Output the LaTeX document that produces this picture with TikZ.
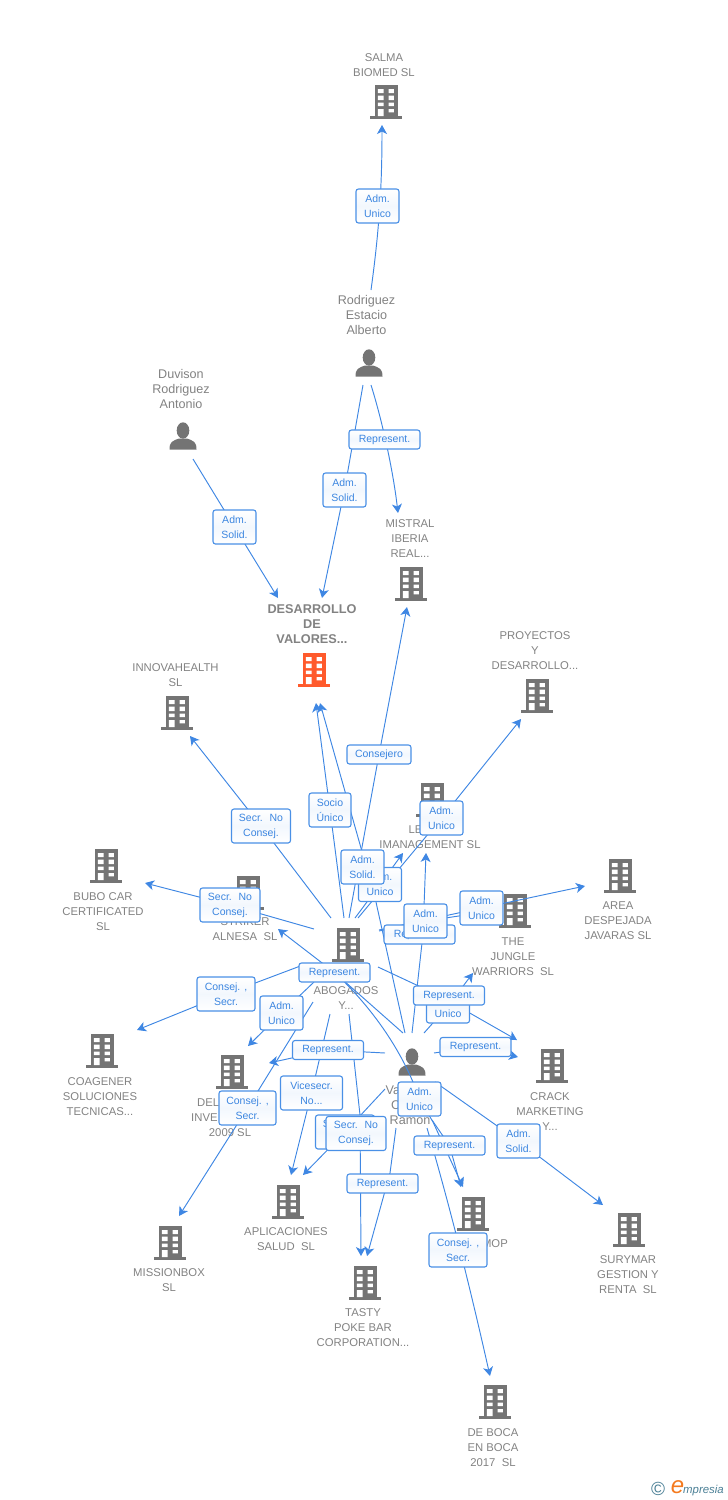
\documentclass[tikz,border=0pt]{standalone}
\usepackage{fontspec}
\setmainfont{Liberation Sans}
\usetikzlibrary{arrows.meta,shadings}
\pgfdeclarelayer{lines}\pgfdeclarelayer{boxes}
\pgfsetlayers{main,lines,boxes}
\definecolor{lnk}{HTML}{3F87E3}
\definecolor{bord}{HTML}{4A90E6}
\definecolor{txtb}{HTML}{3C86E0}
\definecolor{graytx}{HTML}{828282}
\definecolor{ico}{HTML}{747474}
\definecolor{orng}{HTML}{FF5A2C}
\definecolor{logob}{HTML}{4A7F95}
\definecolor{logoo}{HTML}{F47A1F}
\tikzset{
 conn/.style={draw=lnk,line width=0.95pt,line join=round},
 arr/.style={conn,-{Stealth[length=9pt,width=10pt,inset=2.5pt]}},
 rel/.style={draw=bord,line width=1.1pt,rounded corners=2.5pt,top color=white,bottom color=white,middle color=white!93!bord,
   text=txtb,align=center,inner sep=0pt,font=\fontsize{10.5}{15}\selectfont},
 nlabel/.style={text=graytx,align=center,inner sep=0pt,font=\fontsize{11.3}{15}\selectfont},
 plabel/.style={text=graytx,align=center,inner sep=0pt,font=\fontsize{12.6}{15}\selectfont},
 mlabel/.style={text=graytx,align=center,inner sep=0pt,font=\fontsize{12.7}{15}\selectfont\bfseries},
}
% building icon: name, x, y, colour
\newcommand\bldg[4][ico]{%
 \coordinate (#2) at (#3,#4);
 \begin{scope}[shift={(#3,#4)}]
 \fill[#1] (-11.5,-17) rectangle (11.5,14);
 \fill[#1] (-16,14) rectangle (16,16.5);
 \fill[white] (-8.2,-13) rectangle (-2.4,-8.8) (2.5,-13) rectangle (7.8,-8.8)
  (-8.2,-6.3) rectangle (-2.4,-2) (2.5,-6.3) rectangle (7.8,-2)
  (-8.2,0.7) rectangle (-2.4,4) (2.5,0.7) rectangle (7.8,4)
  (-8.2,7) rectangle (-2.4,14) (2.5,7) rectangle (7.8,10.3);
 \end{scope}}
% person icon: name, x, y
\newcommand\persona[3]{%
 \coordinate (#1) at (#2,#3);
 \begin{scope}[shift={(#2,#3)}]
 \fill[ico] (0,-5.5) ellipse (6.3 and 8.2);
 \fill[ico] (-13.5,13.5) .. controls (-13.5,6) and (-11,5) .. (-4,2.5) -- (4,2.5) .. controls (11,5) and (13.5,6) .. (13.5,13.5) -- cycle;
 \end{scope}}
\begin{document}
\begin{tikzpicture}[x=1pt,y=-1pt]
\useasboundingbox (0,0) rectangle (728,1500);
% icons
\bldg{salma}{386}{102}
\persona{rod}{369}{363}
\persona{duv}{183}{436}
\bldg[orng]{desa}{314}{670}
\bldg{mist}{411}{584}
\bldg{proy}{537}{696}
\bldg{inno}{177}{713}
\bldg{leim}{432}{800}
\bldg{bubo}{106}{866}
\bldg{stri}{248}{893}
\bldg{area}{620}{876}
\bldg{jung}{515}{911}
\bldg{abog}{348}{945}
\bldg{coag}{102}{1051}
\bldg{delv}{232}{1072}
\bldg{crac}{552}{1066}
\persona{vale}{412}{1062}
\bldg{apli}{288}{1202}
\bldg{miss}{170}{1243}
\bldg{cmop}{473}{1214}
\bldg{sury}{629}{1230}
\bldg{tast}{365}{1283}
\bldg{debo}{495}{1402}
% labels
\begin{scope}[shift={(0,1)}]
\node[nlabel] (tsalma) at (384,64.5) {SALMA\\BIOMED SL};
\node[plabel] (trod) at (366.5,314) {Rodriguez\\Estacio\\Alberto};
\node[plabel] (tduv) at (181,388) {Duvison\\Rodriguez\\Antonio};
\node[mlabel] (tdesa) at (312,623) {DESARROLLO\\DE\\VALORES...};
\node[nlabel] (tmist) at (410,538) {MISTRAL\\IBERIA\\REAL...};
\node[nlabel] (tproy) at (535,650) {PROYECTOS\\Y\\DESARROLLO...};
\node[nlabel] (tinno) at (175.5,674.5) {INNOVAHEALTH\\SL};
\node[nlabel,anchor=west] (tle) at (408.5,829) {LE};
\node[nlabel] (tleim) at (430,844) {IMANAGEMENT SL};
\node[nlabel] (tbubo) at (103,911) {BUBO CAR\\CERTIFICATED\\SL};
\node[nlabel] (tstri) at (245,928.5) {STRIKER\\ALNESA~ SL};
\node[nlabel] (tarea) at (618,920) {AREA\\DESPEJADA\\JAVARAS SL};
\node[nlabel] (tjung) at (513,956) {THE\\JUNGLE\\WARRIORS~ SL};
\node[nlabel] (tabog) at (346,997.5) {ABOGADOS\\Y...};
\node[nlabel] (tcoag) at (100,1096) {COAGENER\\SOLUCIONES\\TECNICAS...};
\node[nlabel,anchor=west] (tdel1) at (197,1102) {DEL};
\node[nlabel,anchor=west] (tdel2) at (191,1117) {INVE};
\node[nlabel] (tdel3) at (230,1132) {2009 SL};
\node[nlabel] (tcrac) at (550,1111) {CRACK\\MARKETING\\Y...};
\node[plabel,anchor=west] (tval1) at (385.5,1089) {Va};
\node[plabel,anchor=west] (tval2) at (391,1104) {C};
\node[plabel] (tval3) at (410,1119) {Ramon};
\node[nlabel] (tapli) at (286,1238.5) {APLICACIONES\\SALUD~ SL};
\node[nlabel] (tmiss) at (169,1279.5) {MISSIONBOX\\SL};
\node[nlabel,anchor=east] (tcmop) at (508,1243) {MOP};
\node[nlabel] (tsury) at (628,1274) {SURYMAR\\GESTION Y\\RENTA~ SL};
\node[nlabel] (ttast) at (363,1327) {TASTY\\POKE BAR\\CORPORATION...};
\node[nlabel] (tdebo) at (493,1447) {DE BOCA\\EN BOCA\\2017~ SL};
\end{scope}
% logo
\node[inner sep=0pt,text=logob,font=\fontsize{19}{19}\selectfont] (lc) at (658,1489) {©};
\node[inner sep=0pt,text=logoo,font=\fontsize{24}{24}\selectfont\itshape] (le) at (677.5,1487) {e};
\node[inner sep=0pt,anchor=west,text=logob,font=\fontsize{11.4}{13}\selectfont\itshape] (lm) at (683,1491) {mpresia};
% relation boxes
\begin{pgfonlayer}{boxes}
\newcommand\rbox[6]{\node[rel,minimum width=#4pt,minimum height=#5pt] (#1) at (#2,#3) {#6};}
\rbox{b1}{377.5}{206}{43}{34}{Adm.\\Unico}
\rbox{b2}{384.5}{439.5}{71}{19}{Represent.}
\rbox{b3}{344.5}{490}{43}{34}{Adm.\\Solid.}
\rbox{b4}{234.5}{527}{43}{34}{Adm.\\Solid.}
\rbox{b5}{379}{754.5}{64}{19}{Consejero}
\rbox{b6}{330}{810}{42}{34}{Socio\\Único}
\rbox{b8}{261}{826}{59}{34}{Secr.~ No\\Consej.}
\rbox{b9}{441.5}{818}{43}{34}{Adm.\\Unico}
\rbox{b10}{380}{884.5}{43}{34}{Adm.\\Unico}
\rbox{b7}{362.5}{867}{43}{34}{Adm.\\Solid.}
\rbox{b11}{230}{905}{60}{34}{Secr.~ No\\Consej.}
\rbox{b13}{419.5}{934.5}{71}{19}{Represent.}
\rbox{b12}{425.5}{921}{43}{34}{Adm.\\Unico}
\rbox{b14}{481.5}{908}{43}{34}{Adm.\\Unico}
\rbox{b15}{448}{1006}{43}{34}{Adm.\\Unico}
\rbox{b16}{449}{995.5}{71}{19}{Represent.}
\rbox{b17}{475.5}{1047}{71}{19}{Represent.}
\rbox{b18}{334.5}{972.5}{71}{19}{Represent.}
\rbox{b19}{226}{994}{58}{34}{Consej. ,\\Secr.}
\rbox{b20}{281.5}{1013}{43}{34}{Adm.\\Unico}
\rbox{b21}{328}{1050}{71}{19}{Represent.}
\rbox{b22}{311.5}{1093}{62}{34}{Vicesecr.\\No...}
\rbox{b23}{247.5}{1108}{57}{34}{Consej. ,\\Secr.}
\rbox{b24}{345}{1132}{59}{34}{Secr.~ No\\Consej.}
\rbox{b25}{356}{1133.5}{60}{34}{Secr.~ No\\Consej.}
\rbox{b26}{419.5}{1099}{43}{34}{Adm.\\Unico}
\rbox{b27}{449.5}{1145.5}{71}{19}{Represent.}
\rbox{b28}{518.5}{1141}{43}{34}{Adm.\\Solid.}
\rbox{b29}{382.5}{1183.5}{71}{19}{Represent.}
\rbox{b30}{458}{1250}{58}{34}{Consej. ,\\Secr.}
\end{pgfonlayer}
% free connector ends
\foreach \n/\x/\y in {
 s1/371/290, c1a/380/225, c1b/382/180, e1/382/125, s2/371/385, c2a/382/420, c2b/393/470, e2/398/513, s3/363/385, e3/322/598,
 s4/193/459, e4/278/598, s5/349/918, e5/407/607, s6/344/918, e6/316/703,
 s7/405/1033, v7/372/884, u7/361/848, e7/320/703, s8/331/918, e8/190/736,
 s9/358/918, e9/521/719, s10/355/918, e10/403/853, s11/314/929, e11/145/883,
 s12/412/1033, e12/426/853, s13/379/931, e13/472/914, s14/379/930, e14/585/886,
 s15/424/1033, e15/473/973, s16/378/967, v16/440/996, e16/517/1040,
 s17/434/1053, e17/518/1057, s18/403/1033, e18/278/929, s19/303/965, e19/137/1030,
 s20/314/982, e20/248/1046, s21/385/1053, e21/269/1063, s22/330/1014, e22/291/1175,
 s23/313/1002, e23/179/1216, s24/385/1089, e24/303/1175, s25/349/1014, v25/360/1115, e25/361/1256,
 s26/332/970, c26a/368/1003, c26b/402/1048, v26/433/1122, e26/463/1187,
 s27/432/1120, e27/461/1187, s28/435/1082, e28/603/1205,
 s29/396/1128, v29/390/1173, e29/367/1256, s30/427/1128, c30a/445/1190, c30b/465/1265, e30/490/1376,
 v13/423/934}
 {\coordinate (\n) at (\x,\y);}
\begin{pgfonlayer}{lines}
\draw[arr] (s1) .. controls (c1a) and (c1b) .. (e1);
\draw[arr] (s2) .. controls (c2a) and (c2b) .. (e2);
\draw[arr] (s3) -- (b3.center) -- (e3);
\draw[arr] (s4) -- (b4.center) -- (e4);
\draw[arr] (s5) -- (b5.center) -- (e5);
\draw[arr] (s6) -- (b6.center) -- (e6);
\draw[arr] (s7) -- (v7) -- (u7) -- (e7);
\draw[arr] (s8) -- (b8.center) -- (e8);
\draw[arr] (s9) -- (b9.center) -- (e9);
\draw[arr] (s10) -- (b10.center) -- (e10);
\draw[arr] (s11) -- (b11.center) -- (e11);
\draw[arr] (s12) -- (v13) -- (e12);
\draw[arr] (s13) -- (b12.center) -- (e13);
\draw[arr] (s14) -- (b14.center) -- (e14);
\draw[arr] (s15) -- (b15.center) -- (e15);
\draw[arr] (s16) -- (v16) -- (e16);
\draw[arr] (s17) -- (b17.center) -- (e17);
\draw[arr] (s18) -- (b18.center) -- (e18);
\draw[arr] (s19) -- (b19.center) -- (e19);
\draw[arr] (s20) -- (b20.center) -- (e20);
\draw[arr] (s21) -- (b21.center) -- (e21);
\draw[arr] (s22) -- (b22.center) -- (e22);
\draw[arr] (s23) -- (b23.center) -- (e23);
\draw[arr] (s24) -- (b24.center) -- (e24);
\draw[arr] (s25) -- (v25) -- (e25);
\draw[arr] (s26) .. controls (c26a) and (c26b) .. (b26.center) -- (v26) -- (e26);
\draw[arr] (s27) -- (b27.center) -- (e27);
\draw[arr] (s28) -- (b28.center) -- (e28);
\draw[arr] (s29) -- (v29) -- (e29);
\draw[arr] (s30) .. controls (c30a) and (c30b) .. (e30);
\end{pgfonlayer}
\end{tikzpicture}
\end{document}
